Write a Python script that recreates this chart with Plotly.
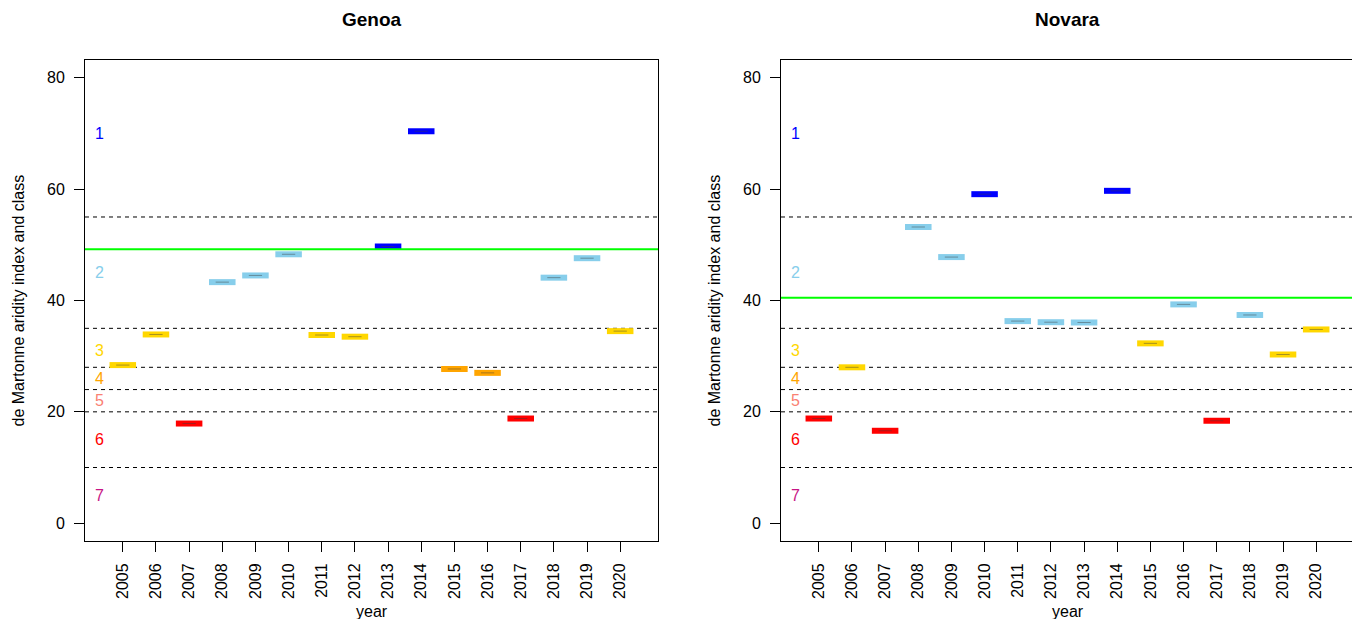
import plotly.graph_objects as go

years = list(range(2005, 2021))
year_labels = [str(y) for y in years]

genoa_values = [28.4, 33.9, 17.9, 43.3, 44.5, 48.3, 33.8, 33.5, 49.7, 70.4, 27.7, 27.0, 18.8, 44.1, 47.6, 34.5]
genoa_classes = [3, 3, 6, 2, 2, 2, 3, 3, 1, 1, 4, 4, 6, 2, 2, 3]
genoa_mean = 49.2

novara_values = [18.8, 28.0, 16.6, 53.2, 47.8, 59.1, 36.3, 36.1, 36.05, 59.7, 32.3, 39.3, 18.4, 37.4, 30.3, 34.8]
novara_classes = [6, 3, 6, 2, 2, 1, 2, 2, 2, 1, 3, 2, 6, 2, 3, 3]
novara_mean = 40.5

class_limits = [10, 20, 24, 28, 35, 55]
class_names = ["1", "2", "3", "4", "5", "6", "7"]
class_label_y = [70, 45, 31, 26, 22, 15, 5]
class_colors = ["#0000FF", "#87CEEB", "#FFD700", "#FFA500", "#FA8072", "#FF0000", "#C71585"]

y_ticks = [0, 20, 40, 60, 80]

# page body has an 8px margin; figure is sized so that it fits the window
OFF = 8
W, H = 1360 - OFF, 619 - OFF
FONT = "Liberation Sans, Arial, sans-serif"


def px(x):
    return (x - OFF) / W


def py(y):
    return 1 - (y - OFF) / H


panels = [
    ("Genoa", genoa_values, genoa_classes, genoa_mean, 85, 658),
    ("Novara", novara_values, novara_classes, novara_mean, 781, 1354),
]
y_top, y_bot = 60, 541

fig = go.Figure()
annotations = []
shapes = []
positions = list(range(1, len(years) + 1))

for k, (name, vals, classes, mean, x0px, x1px) in enumerate(panels):
    xa = "x" if k == 0 else "x2"
    ya = "y" if k == 0 else "y2"
    for p, v, c in zip(positions, vals, classes):
        col = class_colors[c - 1]
        fig.add_trace(go.Scatter(x=[p - 0.4, p + 0.4], y=[v, v], mode="lines",
                                 line=dict(color=col, width=6), xaxis=xa, yaxis=ya,
                                 showlegend=False, hoverinfo="skip"))
        fig.add_trace(go.Scatter(x=[p - 0.2, p + 0.2], y=[v, v], mode="lines",
                                 line=dict(color="rgba(60,60,60,0.45)", width=1), xaxis=xa, yaxis=ya,
                                 showlegend=False, hoverinfo="skip"))
    xref = "x domain" if k == 0 else "x2 domain"
    for lim in class_limits:
        shapes.append(dict(type="line", xref=xref, yref=ya, x0=0, x1=1, y0=lim, y1=lim,
                           line=dict(color="black", width=1, dash="4px,4px"), layer="below"))
    shapes.append(dict(type="line", xref=xref, yref=ya, x0=0, x1=1, y0=mean, y1=mean,
                       line=dict(color="#00FF00", width=2)))
    for nm, yy, col in zip(class_names, class_label_y, class_colors):
        annotations.append(dict(x=0.3, y=yy, xref=xa, yref=ya, text=nm, showarrow=False,
                                font=dict(family=FONT, size=16, color=col),
                                xanchor="center", yanchor="middle"))
    cx = px((x0px + x1px) / 2)
    annotations.append(dict(x=cx, y=py(20), xref="paper", yref="paper", text="<b>%s</b>" % name,
                            showarrow=False, font=dict(family=FONT, size=19, color="black"),
                            xanchor="center", yanchor="middle"))
    annotations.append(dict(x=cx, y=py(611), xref="paper", yref="paper", text="year",
                            showarrow=False, font=dict(family=FONT, size=16, color="black"),
                            xanchor="center", yanchor="middle"))
    annotations.append(dict(x=px(x0px - 67), y=py((y_top + y_bot) / 2), xref="paper", yref="paper",
                            text="de Martonne aridity index and class", textangle=-90,
                            showarrow=False, font=dict(family=FONT, size=16, color="black"),
                            xanchor="center", yanchor="middle"))

axis_common = dict(showline=True, mirror=True, linecolor="black", linewidth=1,
                   ticks="outside", ticklen=10, tickwidth=1, tickcolor="black",
                   showgrid=False, zeroline=False,
                   tickfont=dict(family=FONT, size=16, color="black"))

ydom = [py(y_bot), py(y_top)]
layout = dict(width=W, height=H, autosize=False, margin=dict(l=0, r=0, t=0, b=0),
              plot_bgcolor="white", paper_bgcolor="white", showlegend=False,
              annotations=annotations, shapes=shapes)
for k, (name, vals, classes, mean, x0px, x1px) in enumerate(panels):
    sx = "" if k == 0 else "2"
    layout["xaxis" + sx] = dict(domain=[px(x0px), px(x1px)], range=[-0.14, 17.14],
                                tickvals=positions, ticktext=year_labels, tickangle=-90,
                                ticklabelstandoff=5, anchor="y" + sx, **axis_common)
    layout["yaxis" + sx] = dict(domain=ydom, range=[-3.2, 83.2], tickvals=y_ticks,
                                ticklabelstandoff=6, anchor="x" + sx, **axis_common)

fig.update_layout(**layout)
fig.write_html("out.html")
